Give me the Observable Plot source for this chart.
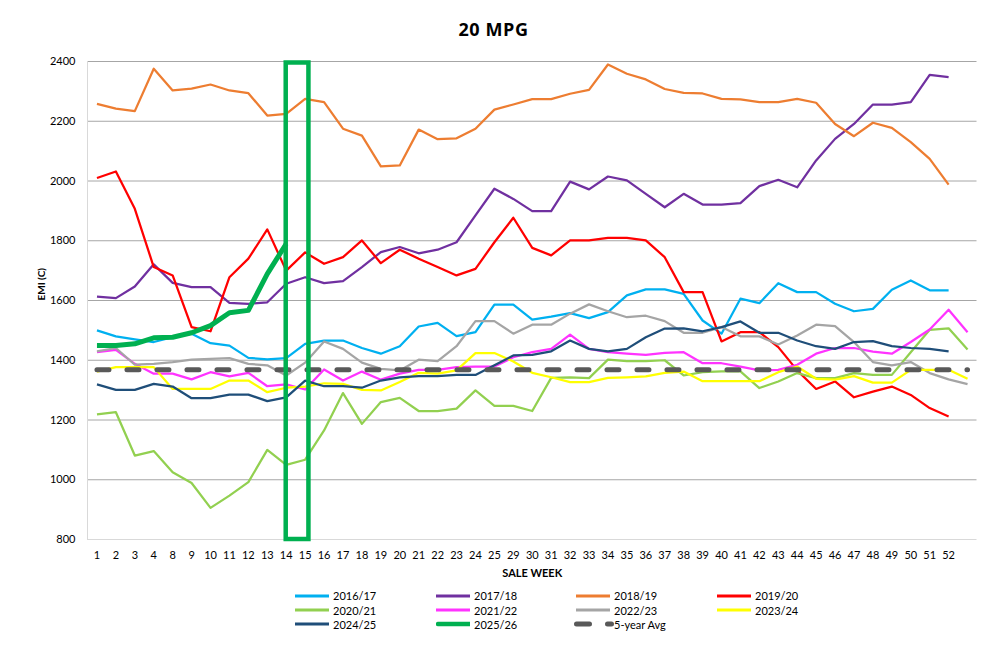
<!DOCTYPE html>
<html>
<head>
<meta charset="utf-8">
<script src="https://cdn.jsdelivr.net/npm/d3@7"></script>
<script src="https://cdn.jsdelivr.net/npm/@observablehq/plot@0.6"></script>
<style>
  html, body { margin: 0; padding: 0; background: #fff; }
  #wrap { width: 987px; height: 648px; position: relative; overflow: hidden; font-family: Lato, sans-serif; }
  #title { height: 50px; box-sizing: border-box; padding-top: 20px; text-align: center; font-family: "Open Sans", sans-serif; font-weight: bold; font-size: 18px; line-height: 18px; letter-spacing: 0.6px; color: #000; }
  #chart { height: 535px; }
  #legend { position: relative; height: 63px; }
  .item { position: absolute; display: flex; align-items: center; height: 14px; font-size: 11px; color: #000; white-space: nowrap; }
  .item svg { display: block; }
  .item span { margin-left: 4px; }
</style>
</head>
<body>
<div id="wrap">
  <div id="title">20 MPG</div>
  <div id="chart"></div>
  <div id="legend"></div>
</div>
<script>
// Sale week category labels (47th category is unlabeled)
const weeks = ["1","2","3","4","8","9","10","11","12","13","14","15","16","17","18","19","20","21","22","23","24","25","29","30","31","32","33","34","35","36","37","38","39","40","41","42","43","44","45","46","47","48","49","50","51","52",""];
const yTicks = [800,1000,1200,1400,1600,1800,2000,2200,2400];

const s2016_17 = [1500,1480,1470,1461,1477,1489,1457,1449,1408,1403,1407,1455,1466,1466,1441,1422,1447,1513,1525,1481,1494,1586,1586,1536,1546,1558,1541,1561,1617,1637,1637,1622,1533,1489,1606,1591,1658,1628,1628,1589,1564,1572,1636,1667,1634,1634];
const s2017_18 = [1613,1608,1647,1721,1659,1645,1645,1592,1589,1594,1656,1678,1658,1665,1712,1762,1779,1758,1770,1795,1885,1974,1940,1899,1899,1998,1972,2015,2002,1957,1912,1957,1921,1921,1926,1983,2004,1979,2069,2141,2191,2256,2256,2264,2355,2348];
const s2018_19 = [2258,2242,2234,2376,2303,2309,2323,2303,2294,2219,2225,2275,2264,2175,2152,2049,2052,2172,2140,2143,2175,2239,2256,2274,2274,2292,2305,2390,2359,2340,2308,2295,2293,2275,2273,2264,2264,2275,2262,2191,2150,2195,2178,2130,2074,1988];
const s2019_20 = [2010,2032,1907,1712,1684,1511,1497,1678,1740,1838,1700,1761,1723,1745,1801,1725,1770,1740,1712,1684,1706,1795,1877,1776,1751,1801,1801,1810,1810,1801,1745,1628,1628,1463,1494,1494,1444,1366,1304,1329,1276,1295,1312,1284,1240,1212];
const s2020_21 = [1219,1226,1081,1096,1025,989,906,947,992,1100,1050,1067,1165,1290,1187,1260,1274,1230,1230,1238,1299,1247,1247,1230,1341,1343,1340,1402,1397,1397,1400,1349,1360,1363,1363,1307,1329,1357,1340,1340,1357,1351,1351,1427,1502,1507,1436];
const s2021_22 = [1427,1435,1388,1355,1355,1336,1360,1346,1358,1313,1319,1302,1369,1332,1362,1335,1355,1368,1368,1377,1379,1379,1410,1427,1438,1486,1438,1427,1422,1418,1425,1427,1390,1390,1379,1366,1368,1385,1422,1441,1441,1429,1422,1461,1503,1569,1494];
const s2022_23 = [1430,1441,1385,1388,1394,1402,1405,1407,1388,1383,1349,1392,1463,1438,1392,1371,1366,1402,1397,1447,1531,1531,1489,1519,1519,1556,1587,1564,1544,1549,1531,1492,1492,1511,1480,1480,1453,1483,1519,1514,1461,1394,1383,1394,1357,1336,1320];
const s2023_24 = [1362,1377,1377,1377,1304,1304,1304,1332,1332,1293,1308,1312,1323,1321,1301,1299,1327,1358,1355,1366,1424,1424,1396,1358,1343,1327,1327,1341,1343,1346,1358,1362,1330,1330,1330,1330,1360,1379,1338,1335,1347,1325,1325,1368,1368,1368,1338];
const s2024_25 = [1319,1301,1301,1321,1312,1273,1273,1285,1285,1263,1276,1332,1313,1313,1308,1332,1343,1347,1347,1351,1351,1383,1416,1418,1430,1466,1438,1430,1438,1477,1506,1507,1497,1511,1530,1492,1492,1466,1447,1438,1461,1464,1447,1441,1438,1430];
const s2025_26 = [1449,1449,1455,1475,1477,1492,1516,1559,1567,1689,1790];
const avg5 = [1368,1368,1368,1368,1368,1368,1368,1368,1368,1368,1368,1368,1368,1368,1368,1368,1368,1368,1368,1368,1368,1368,1368,1368,1368,1368,1368,1368,1368,1368,1368,1368,1368,1368,1368,1368,1368,1368,1368,1368,1368,1368,1368,1368,1368,1368,1368];

// Highlight box around weeks 14–15
const highlight = [{x1: 10, x2: 11.2, y1: 800, y2: 2395}];

const series = [
  {name: "2016/17", values: s2016_17, color: "#00b0f0", width: 2.25},
  {name: "2017/18", values: s2017_18, color: "#7030a0", width: 2.25},
  {name: "2018/19", values: s2018_19, color: "#ed7d31", width: 2.25},
  {name: "2019/20", values: s2019_20, color: "#ff0000", width: 2.25},
  {name: "2020/21", values: s2020_21, color: "#92d050", width: 2.25},
  {name: "2021/22", values: s2021_22, color: "#ff33ff", width: 2.25},
  {name: "2022/23", values: s2022_23, color: "#a5a5a5", width: 2.25},
  {name: "2023/24", values: s2023_24, color: "#ffff00", width: 2.25},
  {name: "2024/25", values: s2024_25, color: "#1f4e79", width: 2.25},
  {name: "2025/26", values: s2025_26, color: "#00b050", width: 5},
  {name: "5-year Avg", values: avg5, color: "#595959", width: 5, dash: "12,18"}
];

const lineMarks = series.map(s => Plot.line(
  s.values.map((v, i) => ({i, v})),
  {x: "i", y: "v", stroke: s.color, strokeWidth: s.width, strokeLinejoin: "round",
   strokeLinecap: s.dash ? "round" : "butt", strokeDasharray: s.dash}
));

const tickIdx = weeks.map((w, i) => i).filter(i => weeks[i] !== "");

const chart = Plot.plot({
  width: 987, height: 535,
  marginLeft: 87, marginRight: 10.5, marginTop: 11, marginBottom: 46,
  x: {domain: [-0.5, 46.5]},
  y: {domain: [800, 2400]},
  style: {fontFamily: "Lato, sans-serif", fontSize: "11px", color: "#000", background: "#fff"},
  marks: [
    Plot.ruleY(yTicks.filter(d => d > 800), {stroke: "#a6a6a6", strokeWidth: 1, strokeOpacity: 1}),
    Plot.ruleY([800], {stroke: "#d9d9d9", strokeWidth: 1}),
    Plot.ruleX([-0.5], {stroke: "#d9d9d9", strokeWidth: 1}),
    Plot.axisY({ticks: yTicks, tickSize: 0, tickPadding: 12, tickFormat: d => String(d), label: null, fontSize: 11}),
    Plot.axisX({ticks: tickIdx, tickSize: 0, tickPadding: 12, tickFormat: i => weeks[i], label: null, fontSize: 11}),
    ...lineMarks,
    Plot.rect(highlight, {x1: "x1", x2: "x2", y1: "y1", y2: "y2", fill: "none", stroke: "#00b050", strokeWidth: 4.5}),
    Plot.text(["SALE WEEK"], {frameAnchor: "bottom", dy: 37, fontWeight: "bold", fontSize: 11}),
    Plot.text(["EMI (C)"], {frameAnchor: "left", dx: -46, rotate: -90, fontWeight: "bold", fontSize: 10})
  ]
});
document.getElementById("chart").appendChild(chart);

// Legend
const legend = document.getElementById("legend");
const colLeft = [295, 436, 576, 717];
series.forEach((s, k) => {
  const r = Math.floor(k / 4), c = k % 4;
  const item = document.createElement("div");
  item.className = "item";
  item.style.left = (colLeft[c] - (s.dash ? 2 : 0)) + "px";
  item.style.top = (3.7 + r * 14.3) + "px";
  const w = s.dash ? 40 : 34;
  const sw = s.dash ? 5 : (s.width > 3 ? 4.5 : 3);
  const svg = d3.create("svg").attr("width", w).attr("height", 10);
  const ln = svg.append("line").attr("x1", s.dash ? 2.5 : (s.width > 3 ? 2 : 0)).attr("x2", s.dash ? 37.5 : (s.width > 3 ? 36 : 34))
    .attr("y1", 5).attr("y2", 5).attr("stroke", s.color).attr("stroke-width", sw);
  if (s.dash) ln.attr("stroke-dasharray", "13,18").attr("stroke-linecap", "round");
  else if (s.width > 3) ln.attr("stroke-linecap", "round");
  item.appendChild(svg.node());
  const t = document.createElement("span");
  t.textContent = s.name;
  if (s.dash) t.style.marginLeft = "0px";
  item.appendChild(t);
  legend.appendChild(item);
});
</script>
</body>
</html>
